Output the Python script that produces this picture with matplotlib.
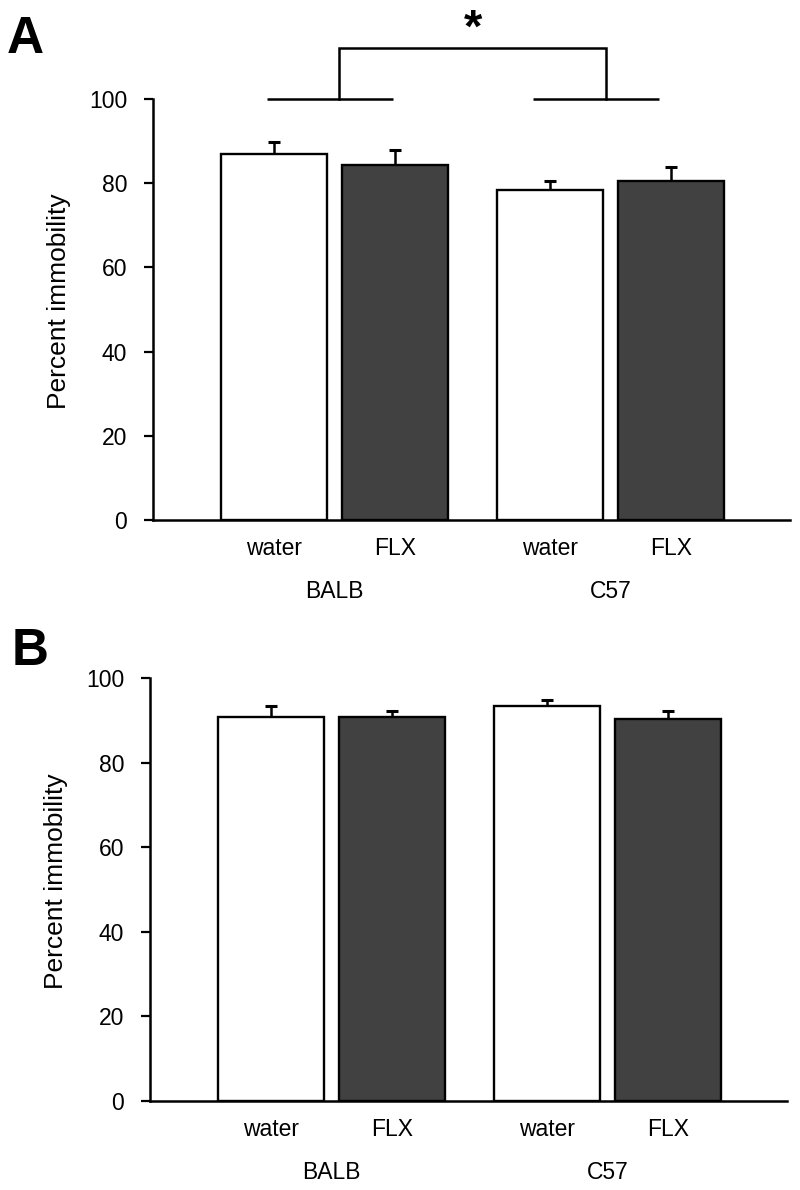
import matplotlib as mpl
mpl.use("Agg")

import matplotlib.pyplot as plt
import numpy as np

plt.rcParams['font.family'] = ['Liberation Sans', 'DejaVu Sans']

# data
strains = ["BALB", "C57"]
treatments = ["water", "FLX"]

# panel A: percent immobility (mean, SEM), order = BALB water, BALB FLX, C57 water, C57 FLX
a_means = [86.9, 84.4, 78.5, 80.5]
a_sem = [2.8, 3.6, 2.1, 3.3]

# panel B
b_means = [90.7, 90.7, 93.3, 90.2]
b_sem = [2.6, 1.6, 1.5, 2.1]

bar_colors = ["white", "#414141"]
group_step = 2.28
bar_width = 0.876


def draw_panel(ax, means, sems):
    xs = []
    for g in range(len(strains)):
        for j in range(len(treatments)):
            xs.append(g * group_step + j)
    xs = np.array(xs)
    cols = [bar_colors[i % 2] for i in range(len(xs))]

    ax.errorbar(xs, means, yerr=sems, fmt='none', ecolor='black',
                elinewidth=1.8, capsize=4, capthick=2.2, zorder=1)
    ax.bar(xs, means, width=bar_width, color=cols, edgecolor='black',
           linewidth=1.7, zorder=2)

    ax.set_xlim(-1.0, 4.26)
    ax.set_ylim(0, 100)
    ax.set_yticks(np.arange(0, 101, 20))
    ax.set_xticks(xs)
    ax.set_xticklabels(treatments * len(strains))
    ax.tick_params(axis='x', length=0, pad=12, labelsize=16.5)
    ax.tick_params(axis='y', length=6.5, width=1.6, pad=12, labelsize=16.5)
    for s in ['top', 'right']:
        ax.spines[s].set_visible(False)
    for s in ['left', 'bottom']:
        ax.spines[s].set_linewidth(1.8)
    ax.set_ylabel("Percent immobility", fontsize=19)
    ax.yaxis.set_label_coords(-0.128, 0.52)

    for g, name in enumerate(strains):
        ax.annotate(name, xy=(g * group_step + 0.5, 0),
                    xycoords=('data', 'axes fraction'),
                    xytext=(0, -56), textcoords='offset points',
                    ha='center', va='baseline', fontsize=16.5)
    return xs


fig = plt.figure(figsize=(8, 11.9), dpi=100)

axA = fig.add_axes([153 / 800, 1 - 520 / 1190, 637 / 800, 421 / 1190])
xsA = draw_panel(axA, a_means, a_sem)

# significance bracket between strains
lw = 1.8
left_c = xsA[:2].mean() - 0.04
right_c = xsA[2:].mean() - 0.12
for c in (left_c, right_c):
    axA.plot([c - 0.52, c + 0.52], [100, 100], color='black', lw=lw, clip_on=False,
             solid_capstyle='butt')
legL = left_c + 0.08
legR = right_c + 0.08
axA.plot([legL, legL, legR, legR], [100, 112.2, 112.2, 100], color='black', lw=lw,
         clip_on=False, solid_joinstyle='miter')
axA.text((legL + legR) / 2, 116.5, "*", ha='center', va='center', fontsize=34,
         fontweight='bold', clip_on=False)

axB = fig.add_axes([150 / 800, 1 - 1101 / 1190, 637 / 800, 423 / 1190])
draw_panel(axB, b_means, b_sem)

fig.text(0.009, 1 - 53 / 1190, "A", fontsize=37, fontweight='bold', va='baseline')
fig.text(0.015, 1 - 665 / 1190, "B", fontsize=37, fontweight='bold', va='baseline')

fig.savefig("out.png", dpi=100)
